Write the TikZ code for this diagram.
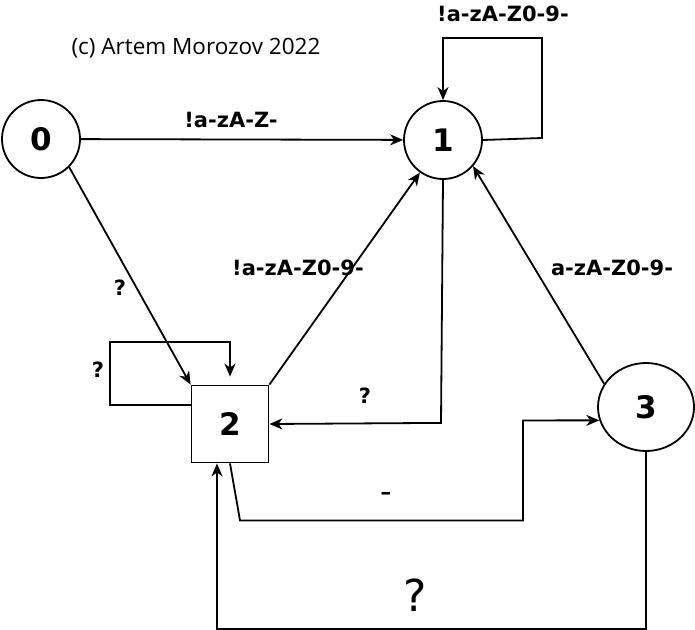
\documentclass[tikz,border=0pt]{standalone}
\usepackage{fontspec}
\setmainfont{DejaVu Sans}
\newfontfamily\notefont{Open Sans}
\usetikzlibrary{arrows.meta}
\usetikzlibrary{shapes.geometric}
\tikzset{
    fsmarrow/.style={-{Stealth[length=13pt,width=11pt,inset=4pt]}, line width=1.8pt},
    fsmstate/.style={draw, line width=1.8pt, inner sep=0pt, font=\fontsize{31}{31}\selectfont\bfseries},
    fsmlabel/.style={font=\fontsize{21}{21}\selectfont\bfseries}
}

\begin{document}
\begin{tikzpicture}[x=1pt,y=-1pt]
    \useasboundingbox (0,0) rectangle (695,629);
    \node[font=\notefont\fontsize{22.5}{22.5}\selectfont] (note) at (196,48) {(c) Artem Morozov 2022};

    \node[fsmstate, circle, minimum size=78pt] (s0) at (41,139) {0};
    \node[fsmstate, circle, minimum size=78pt] (s1) at (443,140) {1};
    \node[fsmstate, rectangle, minimum size=77pt] (s2) at (230,424) {2};
    \node[fsmstate, ellipse, minimum width=96pt, minimum height=88pt] (s3) at (646,407) {3};

    \path [fsmarrow](s0) edge (s1);
    \node[fsmlabel] (l01) at (231,120) {!a-zA-Z-};

    \draw [fsmarrow](s1.east) -- ++(59,-2) -- ++(0,-100) -| (s1.north);
    \node[fsmlabel] (l11) at (503,14) {!a-zA-Z0-9-};

    \draw [fsmarrow](s0.-45) -- (s2.north west);
    \node[fsmlabel] (l02) at (120,288) {?};

    \draw [fsmarrow]([yshift=19pt]s2.west) -| ++(-81,-63) -| ([yshift=8pt]s2.north);
    \node[fsmlabel] (l22) at (98,370) {?};

    \draw [fsmarrow](s2.north east) -- (s1);
    \node[fsmlabel] (l21) at (298,268) {!a-zA-Z0-9-};

    \draw [fsmarrow](s1.south) -- ++(-2,243) -- (s2.east);
    \node[fsmlabel] (l12) at (365,396) {?};

    \draw [fsmarrow](s3.151) -- (s1.-41);
    \node[fsmlabel] (l31) at (612,268) {a-zA-Z0-9-};

    \draw [fsmarrow](s2.south) -- ++(10,57) -| ++(283,-100) -- (s3.196);
    \node[font=\fontsize{32}{32}\selectfont] (l23) at (386,497) {-};

    \draw [fsmarrow](s3.south) -- ++(0,177) -| ([xshift=-13pt]s2.south);
    \node[font=\fontsize{44}{44}\selectfont] (l32) at (415,595) {?};
\end{tikzpicture}
\end{document}
